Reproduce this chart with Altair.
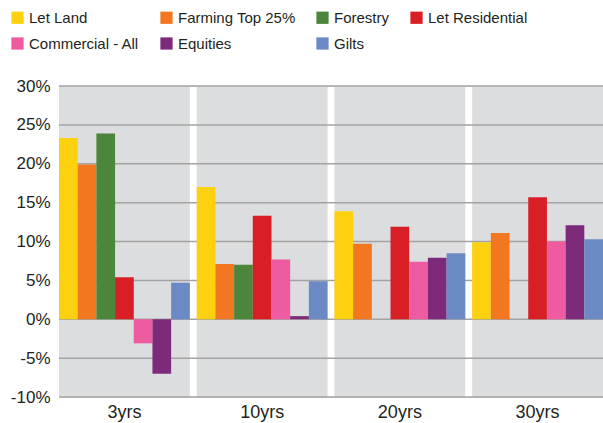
import altair as alt
import pandas as pd

periods = ["3yrs", "10yrs", "20yrs", "30yrs"]
series = ["Let Land", "Farming Top 25%", "Forestry", "Let Residential",
          "Commercial - All", "Equities", "Gilts"]
colors = ["#FDD10F", "#F37721", "#4B863C", "#D81F26", "#EE5BA0", "#7D2A7B", "#6B89C5"]

let_land = [23.3, 17.0, 13.9, 9.9]
farming = [19.9, 7.1, 9.7, 11.1]
forestry = [23.9, 7.0, None, None]
let_res = [5.4, 13.3, 11.9, 15.7]
commercial = [-3.1, 7.7, 7.4, 10.0]
equities = [-7.0, 0.4, 7.9, 12.1]
gilts = [4.7, 4.9, 8.5, 10.3]

grid_values = [-10, -5, 0, 5, 10, 15, 20, 25, 30]

values = [let_land, farming, forestry, let_res, commercial, equities, gilts]
rows = []
for s, vals in zip(series, values):
    for p, v in zip(periods, vals):
        if v is not None:
            rows.append({"period": p, "series": s, "value": v})
df = pd.DataFrame(rows)
bg = pd.DataFrame({"period": periods, "lo": [-10] * 4, "hi": [30] * 4})
grid = pd.DataFrame({"y": grid_values})

FONT = "Liberation Sans"
xscale = alt.Scale(domain=periods, paddingInner=0.05, paddingOuter=0)
yscale = alt.Scale(domain=[-10, 30], nice=False, zero=False)

yaxis = alt.Axis(title=None, values=grid_values, grid=False, ticks=False,
                 domain=False, labelExpr="datum.value + '%'",
                 labelOverlap=False,
                 labelFontSize=17, labelFont=FONT, labelColor="#231F20",
                 labelPadding=9)
xaxis = alt.Axis(title=None, labelAngle=0, ticks=False, domain=False,
                 labelFontSize=18, labelFont=FONT, labelColor="#231F20",
                 labelPadding=6)

background = alt.Chart(bg).mark_bar(color="#DCDDDE").encode(
    x=alt.X("period:N", scale=xscale, sort=periods, axis=xaxis),
    y=alt.Y("lo:Q", scale=yscale, axis=yaxis),
    y2="hi:Q",
)

rules = alt.Chart(grid).mark_rule(color="#A3A3A3", strokeWidth=1.5).encode(
    y=alt.Y("y:Q", scale=yscale, axis=yaxis)
)

bars = alt.Chart(df).mark_bar().encode(
    x=alt.X("period:N", scale=xscale, sort=periods, axis=xaxis),
    xOffset=alt.XOffset("series:N", sort=series,
                        scale=alt.Scale(domain=series, paddingInner=0, paddingOuter=0)),
    y=alt.Y("value:Q", scale=yscale, axis=yaxis),
    y2=alt.datum(0),
    color=alt.Color("series:N", sort=series,
                    scale=alt.Scale(domain=series, range=colors),
                    legend=alt.Legend(title=None, orient="none", legendX=-49, legendY=-76,
                                      direction="horizontal",
                                      columns=4, columnPadding=19, rowPadding=10,
                                      symbolType="square", symbolSize=150,
                                      symbolStrokeWidth=0, labelFontSize=15,
                                      labelFont=FONT, labelColor="#231F20",
                                      labelLimit=300)),
)

chart = alt.layer(background, rules, bars).properties(
    width=544, height=311,
    autosize=alt.AutoSizeParams(type="none"),
    padding={"left": 59, "top": 86, "right": 0, "bottom": 26},
).configure_view(stroke=None).configure(background="white")

chart.save("out.html", embed_options={"renderer": "svg", "actions": False})
